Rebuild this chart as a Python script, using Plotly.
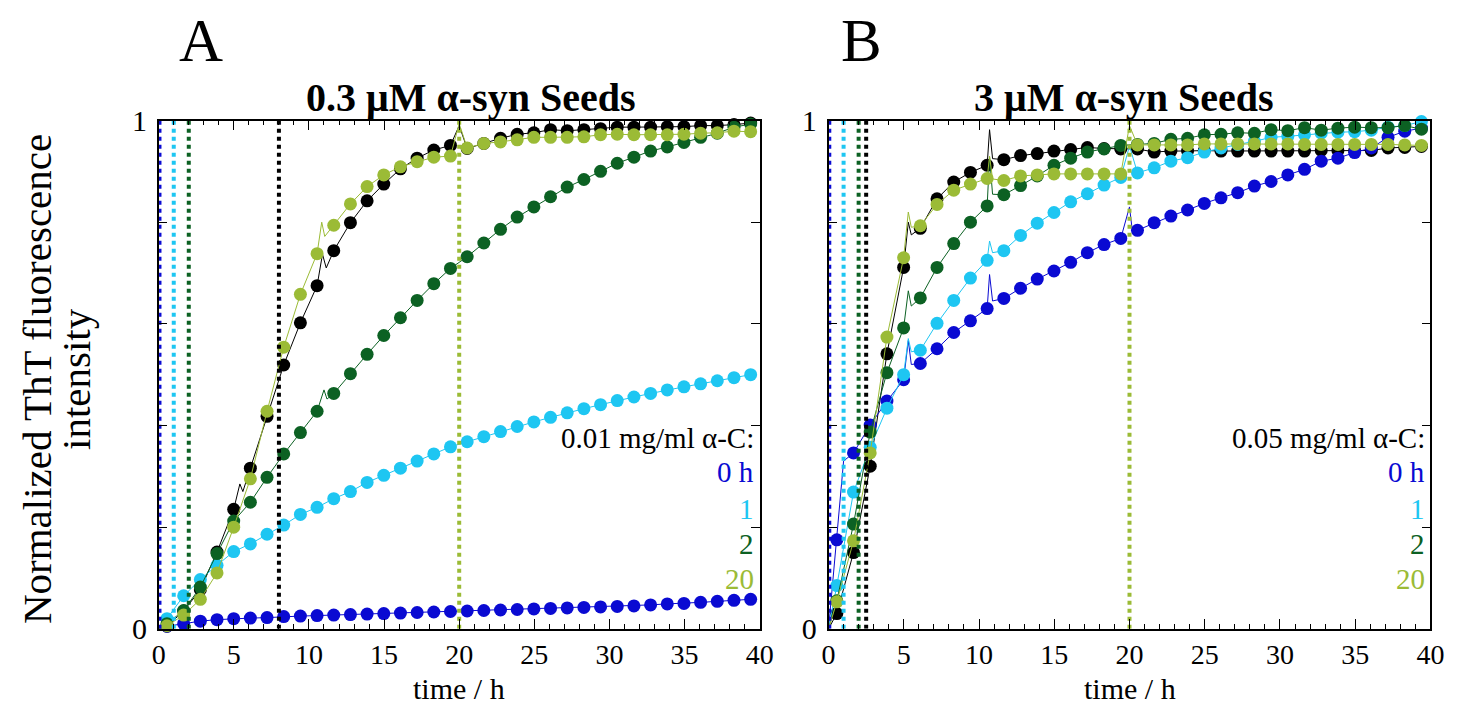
import plotly.graph_objects as go

# ---------------- data ----------------
T = [0.55, 1.66, 2.77, 3.88, 4.99, 6.10, 7.21, 8.32, 9.43, 10.54, 11.65, 12.76,
     13.87, 14.98, 16.09, 17.20, 18.31, 19.42, 20.53, 21.64, 22.75, 23.86, 24.97,
     26.08, 27.19, 28.30, 29.41, 30.52, 31.63, 32.74, 33.85, 34.96, 36.07, 37.18,
     38.29, 39.40]

# Panel A: 0.3 uM seeds, 0.01 mg/ml alpha-C added at 0, 1, 2, 20 h (+ control black)
A_0h = [0.005, 0.010, 0.015, 0.018, 0.020, 0.021, 0.022, 0.024, 0.025, 0.026, 0.027, 0.028,
        0.029, 0.030, 0.031, 0.032, 0.033, 0.034, 0.035, 0.036, 0.037, 0.038, 0.039,
        0.040, 0.041, 0.042, 0.043, 0.044, 0.045, 0.047, 0.049, 0.050, 0.052, 0.054,
        0.056, 0.058]
A_1h = [0.020, 0.065, 0.097, 0.125, 0.152, 0.167, 0.186, 0.204, 0.225, 0.239, 0.256, 0.270,
        0.288, 0.302, 0.316, 0.330, 0.344, 0.358, 0.368, 0.378, 0.388, 0.398, 0.407,
        0.416, 0.425, 0.433, 0.441, 0.449, 0.456, 0.463, 0.470, 0.476, 0.482, 0.488,
        0.494, 0.500]
A_2h = [0.010, 0.036, 0.082, 0.148, 0.212, 0.249, 0.298, 0.344, 0.386, 0.428, 0.463, 0.502,
        0.540, 0.577, 0.612, 0.646, 0.679, 0.709, 0.732, 0.759, 0.786, 0.810, 0.830,
        0.850, 0.869, 0.884, 0.900, 0.916, 0.928, 0.940, 0.948, 0.957, 0.967, 0.975,
        0.987, 0.993]
A_20h = [0.006, 0.027, 0.058, 0.110, 0.200, 0.295, 0.428, 0.554, 0.658, 0.738, 0.794, 0.836,
         0.870, 0.893, 0.909, 0.919, 0.928, 0.930, 0.946, 0.955, 0.958, 0.962, 0.967,
         0.967, 0.967, 0.968, 0.972, 0.973, 0.972, 0.972, 0.972, 0.973, 0.975, 0.976,
         0.979, 0.978]
A_ctrl = [0.005, 0.035, 0.077, 0.151, 0.235, 0.316, 0.418, 0.519, 0.602, 0.675, 0.744, 0.799,
          0.842, 0.875, 0.905, 0.926, 0.942, 0.951, 0.945, 0.955, 0.965, 0.973, 0.976,
          0.982, 0.980, 0.982, 0.984, 0.987, 0.987, 0.987, 0.988, 0.988, 0.990, 0.990,
          0.992, 0.995]

# Panel B: 3 uM seeds, 0.05 mg/ml alpha-C
B_0h = [0.175, 0.346, 0.401, 0.448, 0.490, 0.522, 0.551, 0.583, 0.606, 0.630, 0.650, 0.670,
        0.688, 0.704, 0.721, 0.740, 0.756, 0.768, 0.784, 0.799, 0.812, 0.824, 0.837,
        0.848, 0.858, 0.871, 0.880, 0.893, 0.904, 0.920, 0.926, 0.937, 0.946, 0.967,
        0.979, 0.985]
B_1h = [0.085, 0.269, 0.357, 0.434, 0.500, 0.548, 0.601, 0.646, 0.690, 0.725, 0.744, 0.774,
        0.798, 0.819, 0.840, 0.856, 0.873, 0.888, 0.897, 0.907, 0.920, 0.927, 0.938,
        0.946, 0.953, 0.959, 0.967, 0.969, 0.972, 0.975, 0.977, 0.978, 0.981, 0.987,
        0.990, 0.998]
B_2h = [0.055, 0.206, 0.387, 0.504, 0.592, 0.651, 0.711, 0.758, 0.800, 0.832, 0.854, 0.872,
        0.891, 0.912, 0.926, 0.938, 0.944, 0.951, 0.953, 0.955, 0.963, 0.965, 0.972,
        0.973, 0.976, 0.975, 0.982, 0.980, 0.986, 0.981, 0.985, 0.987, 0.986, 0.986,
        0.990, 0.983]
B_20h = [0.053, 0.173, 0.346, 0.574, 0.730, 0.793, 0.835, 0.863, 0.875, 0.886, 0.882, 0.891,
         0.893, 0.895, 0.895, 0.895, 0.895, 0.895, 0.952, 0.952, 0.952, 0.952, 0.954,
         0.954, 0.954, 0.954, 0.954, 0.954, 0.953, 0.953, 0.953, 0.953, 0.953, 0.953,
         0.952, 0.951]
B_ctrl = [0.030, 0.150, 0.320, 0.541, 0.711, 0.788, 0.846, 0.879, 0.898, 0.912, 0.923, 0.931,
          0.935, 0.940, 0.943, 0.947, 0.945, 0.944, 0.944, 0.938, 0.940, 0.940, 0.941,
          0.940, 0.940, 0.940, 0.940, 0.940, 0.940, 0.941, 0.941, 0.941, 0.941, 0.946,
          0.947, 0.949]

# extra raw points of the thin lines (start point and spikes)
A_0h_XT, A_0h_XY = [0.0], [0.0]
A_1h_XT, A_1h_XY = [0.0], [0.0]
A_2h_XT, A_2h_XY = [0.0, 11.0, 11.2], [0.0, 0.470, 0.452]
A_20h_XT, A_20h_XY = [0.0, 10.85, 11.05, 20.0], [0.0, 0.800, 0.772, 0.994]
A_ctrl_XT, A_ctrl_XY = [0.0, 5.4, 5.6, 10.9, 11.15, 20.0], [0.0, 0.285, 0.270, 0.737, 0.710, 0.990]

B_0h_XT, B_0h_XY = [0.0, 1.0, 5.3, 5.5, 10.7, 10.9, 20.0, 20.2], [0.0, 0.330, 0.567, 0.520, 0.697, 0.645, 0.830, 0.780]
B_1h_XT, B_1h_XY = [0.0, 5.3, 5.5, 10.7, 10.9, 20.0], [0.0, 0.571, 0.545, 0.763, 0.740, 0.950]
B_2h_XT, B_2h_XY = [0.0, 5.3, 5.5, 10.7, 10.9], [0.0, 0.665, 0.635, 0.928, 0.855]
B_20h_XT, B_20h_XY = [0.0, 5.3, 5.5, 10.7, 10.9, 20.0], [0.0, 0.820, 0.790, 0.930, 0.885, 0.990]
B_ctrl_XT, B_ctrl_XY = [0.0, 5.3, 5.5, 10.7, 10.9], [0.0, 0.800, 0.775, 0.982, 0.925]

# vertical dotted lines (time of addition / lag time)
A_VLINES = [0.05, 1.0, 2.0, 8.0, 20.0]
B_VLINES = [0.05, 1.0, 2.0, 2.5, 20.0]

LEGEND_LABELS = ["0 h", "1", "2", "20"]
LEGEND_Y = [0.308, 0.236, 0.166, 0.098]
HEADER_Y = 0.376

# ---------------- styles ----------------
BLUE = "#0A0AD2"
CYAN = "#1EC6F2"
DKGREEN = "#0C6123"
YGREEN = "#9BBB36"
BLACK = "#000000"
SERIES_COLORS = [BLUE, CYAN, DKGREEN, YGREEN]
VLINE_COLORS = [BLUE, CYAN, DKGREEN, BLACK, YGREEN]
SERIF = "Liberation Serif, Times New Roman, serif"

W, H = 1463, 715


# page-pixel calibration (target pixel -> layout pixel)
def ix(px):
    return (px - 6.0) / 0.9874


def iy(py):
    return (py - 14.9) / 0.959


fig = go.Figure()


def merged(t, y, xt, xy):
    pts = sorted(list(zip(t, y)) + list(zip(xt, xy)))
    return [p[0] for p in pts], [p[1] for p in pts]


def add_panel(xa, ya, series, extras, vlines):
    order = [4, 0, 1, 2, 3]
    cols = SERIES_COLORS + [BLACK]
    for i in order:
        y = series[i]
        xt, xy = extras[i]
        lx, ly = merged(T, y, xt, xy)
        fig.add_trace(go.Scatter(x=lx, y=ly, mode="lines", xaxis=xa, yaxis=ya,
                                 line=dict(color=cols[i], width=1), showlegend=False,
                                 hoverinfo="skip"))
        fig.add_trace(go.Scatter(x=T, y=y, mode="markers", xaxis=xa, yaxis=ya,
                                 marker=dict(color=cols[i], size=13, line=dict(width=0)),
                                 showlegend=False, cliponaxis=False))
    for v, c in zip(vlines, VLINE_COLORS):
        fig.add_trace(go.Scatter(x=[v, v], y=[0, 1], mode="lines", xaxis=xa, yaxis=ya,
                                 line=dict(color=c, width=4, dash="dot"),
                                 showlegend=False, hoverinfo="skip"))


add_panel("x", "y", [A_0h, A_1h, A_2h, A_20h, A_ctrl],
          [(A_0h_XT, A_0h_XY), (A_1h_XT, A_1h_XY), (A_2h_XT, A_2h_XY),
           (A_20h_XT, A_20h_XY), (A_ctrl_XT, A_ctrl_XY)], A_VLINES)
add_panel("x2", "y2", [B_0h, B_1h, B_2h, B_20h, B_ctrl],
          [(B_0h_XT, B_0h_XY), (B_1h_XT, B_1h_XY), (B_2h_XT, B_2h_XY),
           (B_20h_XT, B_20h_XY), (B_ctrl_XT, B_ctrl_XY)], B_VLINES)

xdomA = [ix(158) / W, ix(760) / W]
xdomB = [ix(829) / W, ix(1432) / W]
ydom = [(H - iy(631)) / H, (H - iy(120)) / H]

xax = dict(range=[0, 40], tickvals=[0, 5, 10, 15, 20, 25, 30, 35, 40], ticks="inside",
           ticklen=10, tickwidth=1, tickcolor="black", showline=True, linecolor="black",
           linewidth=1.5, mirror="ticks", showgrid=False, zeroline=False,
           ticklabelstandoff=0,
           tickfont=dict(family=SERIF, size=28, color="black"),
           minor=dict(dtick=1, ticks="inside", ticklen=5, tickcolor="black", showgrid=False))
yax = dict(range=[0, 1], tickvals=[0, 0.2, 0.4, 0.6, 0.8, 1.0],
           ticktext=["0", "", "", "", "", "1"], ticks="inside", ticklen=9, tickwidth=1,
           tickcolor="black", showline=True, linecolor="black", linewidth=1.5,
           mirror="ticks", showgrid=False, zeroline=False, ticklabelstandoff=4,
           tickfont=dict(family=SERIF, size=30, color="black"))

fig.update_layout(
    width=W, height=H, margin=dict(l=0, r=0, t=0, b=0),
    paper_bgcolor="white", plot_bgcolor="white", showlegend=False,
    xaxis=dict(xax, domain=xdomA, anchor="y"),
    yaxis=dict(yax, domain=ydom, anchor="x"),
    xaxis2=dict(xax, domain=xdomB, anchor="y2"),
    yaxis2=dict(yax, domain=ydom, anchor="x2"),
)


def txt(text, px, py, size, color="black", angle=0, xanchor="center"):
    return dict(text=text, x=ix(px) / W, y=1 - iy(py) / H, xref="paper", yref="paper",
                xanchor=xanchor, yanchor="middle", showarrow=False, textangle=angle,
                font=dict(family=SERIF, size=size, color=color))


ann = []
ann.append(txt("A", 200, 40, 61))
ann.append(txt("B", 862, 40, 61))
ann.append(txt("<b>0.3 μM α-syn Seeds</b>", 470, 97, 40))
ann.append(txt("<b>3 μM α-syn Seeds</b>", 1124, 97, 40))
for cx in [(158 + 760) / 2, (829 + 1432) / 2]:
    ann.append(txt("time / h", cx, 691, 30))
ann.append(txt("Normalized ThT fluorescence", 36, 380, 41, angle=-90))
ann.append(txt("intensity", 75, 380, 41, angle=-90))

for xr, yr, head in [("x", "y", "0.01 mg/ml α-C:"), ("x2", "y2", "0.05 mg/ml α-C:")]:
    ann.append(dict(text=head, x=39.75, y=HEADER_Y, xref=xr, yref=yr, xanchor="right",
                    yanchor="middle", showarrow=False,
                    font=dict(family=SERIF, size=29, color="black")))
    for lab, ly, c in zip(LEGEND_LABELS, LEGEND_Y, SERIES_COLORS):
        ann.append(dict(text=lab, x=39.75, y=ly, xref=xr, yref=yr, xanchor="right",
                        yanchor="middle", showarrow=False,
                        font=dict(family=SERIF, size=29, color=c)))
fig.update_layout(annotations=ann)

fig.write_html("out.html")
